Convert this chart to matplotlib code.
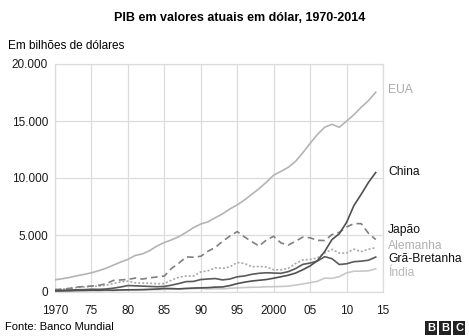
import matplotlib.pyplot as plt
import numpy as np

plt.rcParams['font.family'] = ['Liberation Sans', 'DejaVu Sans']

# PIB em bilhões de dólares correntes, 1970-2014
years = np.arange(1970, 2015)

eua = [1073, 1165, 1280, 1425, 1545, 1684, 1873, 2082, 2352, 2627,
       2857, 3207, 3343, 3634, 4037, 4339, 4580, 4855, 5236, 5642,
       5963, 6158, 6520, 6859, 7287, 7640, 8073, 8578, 9063, 9631,
       10252, 10582, 10936, 11458, 12214, 13037, 13815, 14452, 14713, 14449,
       14992, 15543, 16197, 16785, 17522]

china = [93, 100, 114, 139, 144, 163, 154, 175, 150, 178,
         191, 196, 205, 231, 260, 310, 301, 273, 312, 348,
         361, 383, 427, 445, 564, 735, 864, 962, 1029, 1094,
         1211, 1339, 1471, 1660, 1955, 2286, 2752, 3552, 4598, 5110,
         6101, 7573, 8561, 9607, 10482]

japao = [213, 240, 318, 432, 480, 522, 586, 721, 1014, 1055,
         1105, 1219, 1135, 1243, 1318, 1399, 2079, 2533, 3072, 3055,
         3133, 3584, 3909, 4454, 4907, 5300, 4834, 4415, 4033, 4562,
         4888, 4304, 4115, 4446, 4815, 4755, 4530, 4515, 5038, 5231,
         5700, 6000, 6000, 5156, 4600]

alemanha = [216, 250, 300, 398, 445, 491, 520, 600, 741, 881,
            950, 801, 777, 771, 725, 733, 1046, 1298, 1401, 1398,
            1765, 1862, 2123, 2068, 2206, 2592, 2504, 2218, 2243, 2200,
            1947, 1945, 2078, 2502, 2815, 2846, 2994, 3425, 3745, 3412,
            3417, 3758, 3544, 3753, 3890]

gra_bretanha = [131, 148, 170, 193, 206, 242, 233, 263, 336, 438,
                565, 541, 515, 490, 462, 489, 602, 745, 910, 927,
                1093, 1142, 1179, 1061, 1140, 1335, 1405, 1553, 1642, 1687,
                1663, 1641, 1785, 2054, 2422, 2539, 2714, 3100, 2923, 2411,
                2475, 2659, 2704, 2786, 3064]

india = [62, 67, 72, 86, 100, 99, 103, 122, 137, 153,
         186, 194, 201, 218, 212, 233, 249, 279, 297, 296,
         321, 270, 288, 279, 327, 360, 393, 416, 421, 459,
         468, 485, 515, 608, 709, 820, 940, 1217, 1199, 1342,
         1676, 1823, 1828, 1857, 2039]

xticks = [1970, 1975, 1980, 1985, 1990, 1995, 2000, 2005, 2010, 2015]
xtick_labels = ['1970', '75', '80', '85', '90', '95', '2000', '05', '10', '15']
yticks = [0, 5000, 10000, 15000, 20000]
ytick_labels = ['0', '5.000', '10.000', '15.000', '20.000']

fig = plt.figure(figsize=(4.69, 3.36), dpi=100)
ax = fig.add_axes([55 / 469, 44 / 336, 328 / 469, 228 / 336])

grid_c = '#dcdcdc'
lw = 1.2
ax.plot(years, india, color='#c8c8c8', lw=lw, zorder=3)
ax.plot(years, gra_bretanha, color='#5a5a5a', lw=lw, zorder=4)
ax.plot(years, alemanha, color='#a8a8a8', lw=lw, ls=(0, (1.2, 1.2)), zorder=3)
ax.plot(years, japao, color='#808080', lw=lw, ls=(0, (4, 2.5)), zorder=3)
ax.plot(years, china, color='#505050', lw=lw, zorder=5)
ax.plot(years, eua, color='#b4b4b4', lw=lw, zorder=3)

ax.set_xlim(1970, 2015)
ax.set_ylim(0, 20000)
ax.set_xticks(xticks)
ax.set_xticklabels(xtick_labels)
ax.set_yticks(yticks)
ax.set_yticklabels(ytick_labels)
ax.grid(True, color=grid_c, lw=0.9)
ax.set_axisbelow(True)
for s in ax.spines.values():
    s.set_color(grid_c)
    s.set_linewidth(0.9)
ax.tick_params(axis='both', length=0, labelsize=8.5, colors='#1a1a1a')
ax.tick_params(axis='x', pad=9)
ax.tick_params(axis='y', pad=5)

# rótulos das séries à direita
labels = [('EUA', 17700, '#aaaaaa'),
          ('China', 10500, '#111111'),
          ('Japão', 5400, '#111111'),
          ('Alemanha', 4000, '#b0b0b0'),
          ('Grã-Bretanha', 2900, '#111111'),
          ('Índia', 1700, '#b8b8b8')]
for txt, yv, c in labels:
    ax.text(2015.7, yv, txt, color=c, fontsize=8.7, va='center', ha='left',
            clip_on=False)

fig.text(240 / 469, 1 - 18 / 336, 'PIB em valores atuais em dólar, 1970-2014',
         ha='center', va='center', fontsize=9, fontweight='bold')
fig.text(8 / 469, 1 - 46 / 336, 'Em bilhões de dólares',
         ha='left', va='center', fontsize=8.5)
fig.text(5 / 469, 1 - 327 / 336, 'Fonte: Banco Mundial',
         ha='left', va='center', fontsize=8)

# logo BBC
for i, letter in enumerate('BBC'):
    fig.text((431 + i * 14) / 469, 1 - 328 / 336, letter, color='white',
             fontsize=8, fontweight='bold', ha='center', va='center',
             bbox=dict(boxstyle='square,pad=0.2', fc='#222222', ec='none'))

fig.savefig('out.png', dpi=100)
